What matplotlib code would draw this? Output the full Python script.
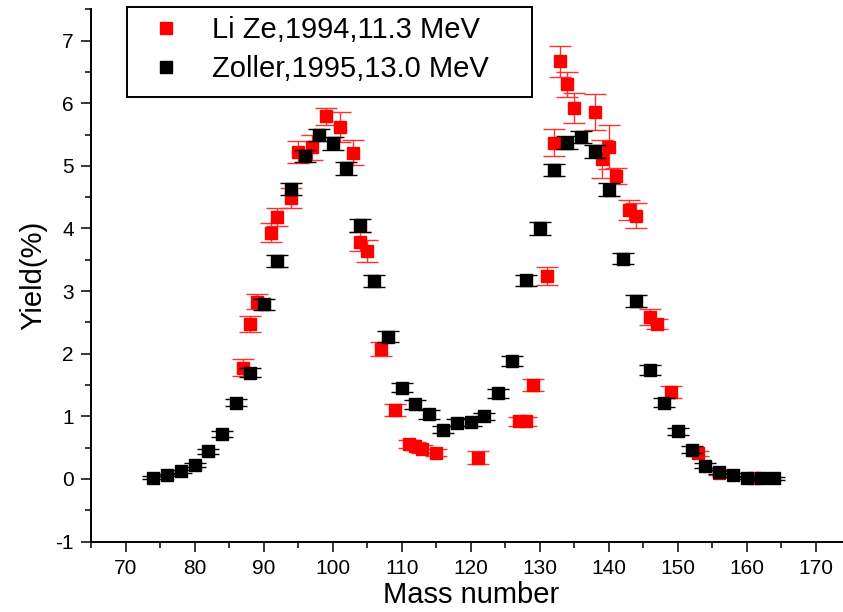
import matplotlib
matplotlib.use("Agg")
import matplotlib.pyplot as plt
from matplotlib.ticker import MultipleLocator
from matplotlib.lines import Line2D
from matplotlib.patches import Rectangle

plt.rcParams['font.family'] = ['Liberation Sans', 'DejaVu Sans']
plt.rcParams['axes.unicode_minus'] = False

# Li Ze, 1994, 11.3 MeV
mass_lize = [87, 88, 89, 91, 92, 94, 95, 97, 99, 101, 103, 104, 105, 107, 109,
             111, 112, 113, 115, 121, 127, 128, 129, 131, 132, 133, 134, 135,
             138, 139, 140, 141, 143, 144, 146, 147, 149, 153, 156, 161]
yield_lize = [1.78, 2.48, 2.83, 3.93, 4.18, 4.49, 5.22, 5.30, 5.79, 5.62, 5.21,
              3.79, 3.64, 2.07, 1.10, 0.56, 0.53, 0.48, 0.42, 0.34, 0.92, 0.92,
              1.50, 3.24, 5.37, 6.67, 6.30, 5.92, 5.86, 5.11, 5.30, 4.84, 4.29,
              4.20, 2.59, 2.48, 1.39, 0.41, 0.09, 0.01]
err_lize = [0.13, 0.13, 0.12, 0.15, 0.14, 0.16, 0.17, 0.20, 0.14, 0.24, 0.20,
            0.15, 0.18, 0.11, 0.10, 0.07, 0.06, 0.06, 0.06, 0.10, 0.07, 0.07,
            0.10, 0.14, 0.21, 0.25, 0.20, 0.24, 0.29, 0.30, 0.35, 0.13, 0.16,
            0.20, 0.13, 0.08, 0.10, 0.04, 0.03, 0.02]

# Zoller, 1995, 13.0 MeV
mass_zoller = [74, 76, 78, 80, 82, 84, 86, 88, 90, 92, 94, 96, 98, 100, 102,
               104, 106, 108, 110, 112, 114, 116, 118, 120, 122, 124, 126, 128,
               130, 132, 134, 136, 138, 140, 142, 144, 146, 148, 150, 152, 154,
               156, 158, 160, 162, 164]
yield_zoller = [0.02, 0.06, 0.12, 0.22, 0.44, 0.72, 1.22, 1.70, 2.79, 3.48,
                4.63, 5.16, 5.49, 5.36, 4.96, 4.05, 3.16, 2.27, 1.46, 1.19,
                1.03, 0.79, 0.90, 0.91, 1.00, 1.37, 1.89, 3.17, 4.00, 4.93,
                5.37, 5.46, 5.23, 4.62, 3.52, 2.84, 1.74, 1.22, 0.76, 0.47,
                0.21, 0.11, 0.06, 0.02, 0.01, 0.01]
err_zoller = [0.02, 0.02, 0.03, 0.03, 0.04, 0.05, 0.06, 0.07, 0.09, 0.09,
              0.10, 0.10, 0.10, 0.10, 0.10, 0.10, 0.09, 0.09, 0.07, 0.07,
              0.07, 0.06, 0.06, 0.06, 0.06, 0.07, 0.08, 0.09, 0.10, 0.10,
              0.10, 0.10, 0.10, 0.10, 0.09, 0.09, 0.08, 0.07, 0.06, 0.05,
              0.04, 0.03, 0.03, 0.02, 0.02, 0.02]

fig = plt.figure(figsize=(8.43, 6.12), dpi=100)
ax = fig.add_axes([0.108, 0.115, 0.9007, 0.8699])

ax.errorbar(mass_lize, yield_lize, yerr=err_lize, fmt='s', color='#ff0000',
            ms=8.6, ecolor='#ff3030', elinewidth=1, capsize=8, capthick=1,
            zorder=2)
ax.errorbar(mass_zoller, yield_zoller, yerr=err_zoller, fmt='s', color='black',
            ms=8.6, ecolor='black', elinewidth=1, capsize=8, capthick=1,
            zorder=3)

ax.set_xlim(65, 175)
ax.set_ylim(-1, 7.5)
ax.xaxis.set_major_locator(MultipleLocator(10))
ax.xaxis.set_minor_locator(MultipleLocator(5))
ax.yaxis.set_major_locator(MultipleLocator(1))
ax.yaxis.set_minor_locator(MultipleLocator(0.5))

for s in ['top', 'right']:
    ax.spines[s].set_visible(False)
for s in ['left', 'bottom']:
    ax.spines[s].set_linewidth(1.4)

ax.tick_params(which='major', direction='out', length=7.5, width=1.1,
               labelsize=15, pad=5)
ax.tick_params(which='minor', direction='out', length=4.2, width=1.1)

ax.set_xlabel("Mass number", fontsize=21, labelpad=2)
ax.set_ylabel("Yield(%)", fontsize=21, labelpad=6)

# legend
handles = [Line2D([], [], marker='s', ms=8.6, color='#ff0000', ls='none'),
           Line2D([], [], marker='s', ms=8.6, color='black', ls='none')]
labels = ["Li Ze,1994,11.3 MeV", "Zoller,1995,13.0 MeV"]
W, H = 843, 612
leg = fig.legend(handles, labels, loc='upper left',
                 bbox_to_anchor=(127 / W, 1 - 7 / H), borderaxespad=0,
                 frameon=False, fontsize=21, borderpad=0.3,
                 handlelength=2.1, handletextpad=0.5, labelspacing=0.38)
fig.patches.append(Rectangle((127 / W, 1 - 97 / H), (532 - 127) / W, 90 / H,
                             transform=fig.transFigure, fill=False,
                             edgecolor='black', linewidth=1.4, zorder=5))

fig.savefig("out.png", dpi=100)
